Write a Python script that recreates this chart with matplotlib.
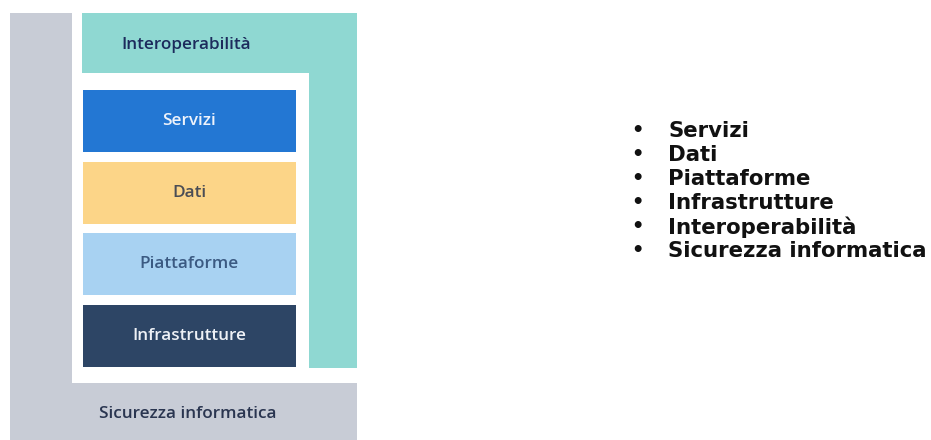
import matplotlib
matplotlib.use("Agg")
import matplotlib.pyplot as plt
from matplotlib.patches import Rectangle

# Diagram content
layers = ["Servizi", "Dati", "Piattaforme", "Infrastrutture"]
layer_colors = ["#2377d3", "#fcd588", "#a8d2f2", "#2d4565"]
layer_text_colors = ["#eef3fb", "#4a4d55", "#3b5a82", "#eef1f6"]
outer_top_label = "Interoperabilità"
outer_bottom_label = "Sicurezza informatica"
bullets = ["Servizi", "Dati", "Piattaforme", "Infrastrutture",
           "Interoperabilità", "Sicurezza informatica"]

W, H = 931, 440
fig = plt.figure(figsize=(W / 100, H / 100), dpi=100)
ax = fig.add_axes([0, 0, 1, 1])
ax.set_xlim(0, W)
ax.set_ylim(H, 0)
ax.axis("off")

gray = "#c8ccd6"
teal = "#8fd8d2"
diag_font = ["Open Sans", "DejaVu Sans"]
fs = 12.3

# gray security frame
ax.add_patch(Rectangle((10, 13), 347, H - 13, color=gray, lw=0))
# white inner area
ax.add_patch(Rectangle((72, 13), 285, 370, color="white", lw=0))
# teal interoperability L
ax.add_patch(Rectangle((82, 13), 275, 60, color=teal, lw=0))
ax.add_patch(Rectangle((309, 13), 48, 355, color=teal, lw=0))

ax.text(186, 45, outer_top_label, ha="center", va="center", fontsize=fs,
        fontweight="semibold", color="#1c2b5c", family=diag_font)
ax.text(188, 414, outer_bottom_label, ha="center", va="center", fontsize=fs,
        fontweight="semibold", color="#2a3550", family=diag_font)

top0, hgt, step = 90, 62, 71.7
for i, (name, c, tc) in enumerate(zip(layers, layer_colors, layer_text_colors)):
    y = top0 + i * step
    ax.add_patch(Rectangle((83, y), 213, hgt, color=c, lw=0))
    ax.text(189, y + hgt / 2, name, ha="center", va="center", fontsize=fs,
            fontweight="semibold", color=tc, family=diag_font)

# bullet list
for i, b in enumerate(bullets):
    y = 131 + i * 24
    ax.text(637, y, "•", ha="center", va="center", fontsize=14,
            fontweight="bold", color="#111111", family="DejaVu Sans")
    ax.text(668, y, b, ha="left", va="center", fontsize=15.3,
            fontweight="bold", color="#111111", family="DejaVu Sans")

fig.savefig("out.png", dpi=100)
